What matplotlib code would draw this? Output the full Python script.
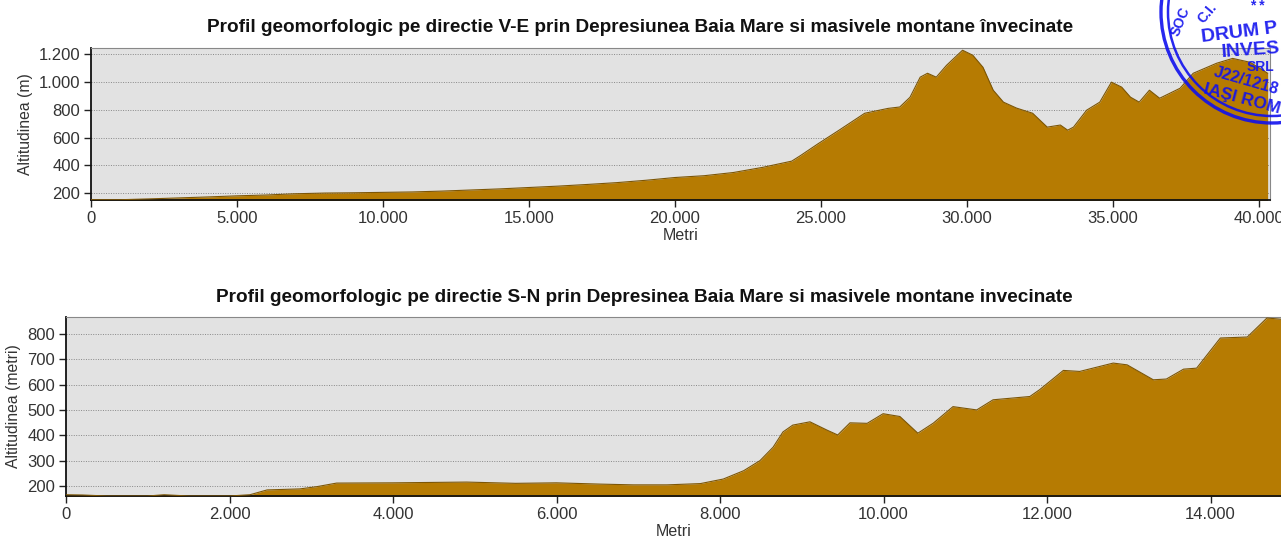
import matplotlib
matplotlib.use("Agg")
import matplotlib.pyplot as plt
from matplotlib.ticker import FuncFormatter, MultipleLocator
from matplotlib.patches import Circle

plt.rcParams['font.family'] = ['Liberation Sans', 'DejaVu Sans']

# --- profil V-E (distanta in metri, altitudine in m) ---
ve_dist = [0, 1000, 2000, 3000, 4000, 5000, 6000, 7000, 8000, 9000, 10000,
           11000, 12000, 13000, 14000, 15000, 16000, 17000, 18000, 19000,
           20000, 21000, 22000, 23000, 24000, 24300, 24900, 25600, 26500,
           27300, 27700, 28050, 28400, 28650, 28950, 29300, 29850, 30200,
           30550, 30900, 31250, 31700, 32250, 32750, 33200, 33450, 33650,
           34100, 34550, 34950, 35300, 35600, 35900, 36250, 36600, 37300,
           37750, 38550, 39100, 39700, 40300]
ve_alt = [152, 152, 158, 165, 172, 180, 186, 195, 200, 202, 205,
          208, 214, 222, 230, 240, 250, 262, 275, 292,
          312, 325, 348, 385, 430, 470, 555, 650, 775,
          810, 820, 890, 1035, 1063, 1035, 1120, 1229, 1193,
          1106, 941, 855, 812, 775, 675, 690, 653, 675,
          797, 855, 999, 963, 891, 855, 941, 883, 955,
          1063, 1135, 1170, 1142, 1063]

# --- profil S-N ---
sn_dist = [0, 200, 500, 1000, 1200, 1500, 2000, 2250, 2460, 2860, 3070, 3310,
           4000, 4900, 5500, 6000, 6530, 6940, 7350, 7760, 8040, 8290, 8490,
           8650, 8770, 8890, 9100, 9310, 9440, 9590, 9800, 9995, 10200, 10420,
           10610, 10850, 11140, 11340, 11790, 11910, 12200, 12400, 12810,
           12980, 13300, 13460, 13670, 13830, 14120, 14450, 14690, 14870]
sn_alt = [165, 164, 160, 160, 165, 160, 160, 165, 184, 188, 197, 211,
          212, 215, 210, 212, 207, 204, 204, 209, 227, 260, 300,
          353, 413, 440, 453, 420, 401, 449, 447, 485, 474, 408,
          448, 513, 500, 540, 553, 580, 656, 652, 685,
          678, 619, 622, 661, 665, 784, 788, 863, 858]

ve_title = "Profil geomorfologic pe directie V-E prin Depresiunea Baia Mare si masivele montane învecinate"
sn_title = "Profil geomorfologic pe directie S-N prin Depresinea Baia Mare si masivele montane invecinate"

FILL = "#b67b02"
EDGE = "#7d5605"
BG = "#e2e2e2"

W, H = 1281, 539


def fmt_ro(v, pos):
    return f"{int(round(v)):,}".replace(",", ".")


def draw_profile(ax, dist, alt, ylim, xlim, xstep, ystep, ylabel):
    ax.set_facecolor(BG)
    ax.fill_between(dist, ylim[0] - 50, alt, color=FILL, lw=0, zorder=2)
    ax.plot(dist, alt, color=EDGE, lw=0.8, zorder=3)
    ax.set_xlim(*xlim)
    ax.set_ylim(*ylim)
    ax.xaxis.set_major_locator(MultipleLocator(xstep))
    ax.yaxis.set_major_locator(MultipleLocator(ystep))
    ax.xaxis.set_major_formatter(FuncFormatter(fmt_ro))
    ax.yaxis.set_major_formatter(FuncFormatter(fmt_ro))
    ax.grid(axis='y', color='#888888', ls=(0, (1, 1.5)), lw=0.7, zorder=1)
    ax.tick_params(labelsize=12, length=5, width=1, colors='#222222',
                   labelcolor='#333333', pad=3)
    for s in ['left', 'bottom']:
        ax.spines[s].set_color('#111111')
        ax.spines[s].set_linewidth(1.3)
    for s in ['top', 'right']:
        ax.spines[s].set_color('#888888')
        ax.spines[s].set_linewidth(0.8)
    ax.set_xlabel("Metri", fontsize=11.5, color='#333333', labelpad=1)
    ax.set_ylabel(ylabel, fontsize=11.3, color='#333333', labelpad=4)


fig = plt.figure(figsize=(W / 100, H / 100), dpi=100)
fig.patch.set_facecolor('white')

# axe in pixeli: stanga, sus, dreapta, jos
ax1 = fig.add_axes([91 / W, (H - 200) / H, (1270 - 91) / W, (200 - 48) / H])
ax2 = fig.add_axes([66 / W, (H - 496) / H, (W - 66) / W, (496 - 317) / H])

draw_profile(ax1, ve_dist, ve_alt, (150, 1245), (0, 40380), 5000, 200,
             "Altitudinea (m)")
draw_profile(ax2, sn_dist, sn_alt, (160, 867), (0, 14862), 2000, 100,
             "Altitudinea (metri)")

fig.text(0.5, 1 - 28 / H, ve_title, ha='center', va='center',
         fontsize=13.7, fontweight='bold', color='#111111')
fig.text(0.503, 1 - 297 / H, sn_title, ha='center', va='center',
         fontsize=13.7, fontweight='bold', color='#111111')

# stampila albastra din coltul dreapta-sus
st = fig.add_axes([0, 0, 1, 1], facecolor='none')
st.set_xlim(0, W)
st.set_ylim(H, 0)
st.set_aspect('equal')
st.axis('off')
blue = '#1010ee'
cx, cy = 1272, 12
for r, lw in [(111, 2.4), (104, 1.8)]:
    st.add_patch(Circle((cx, cy), r, fill=False, ec=blue, lw=lw, alpha=0.9))
st.text(1200, 33, "DRUM P", color=blue, fontsize=14, fontweight='bold',
        ha='left', va='center', rotation=7, alpha=0.9)
st.text(1221, 50, "INVES", color=blue, fontsize=14, fontweight='bold',
        ha='left', va='center', rotation=4, alpha=0.9)
st.text(1247, 67, "SRL", color=blue, fontsize=10, fontweight='bold',
        ha='left', va='center', alpha=0.9)
st.text(1246, 81, "J22/1218", color=blue, fontsize=11.5, fontweight='bold',
        ha='center', va='center', rotation=-16, alpha=0.9)
st.text(1242, 99, "IAŞI ROM", color=blue, fontsize=12.5, fontweight='bold',
        ha='center', va='center', rotation=-15, alpha=0.9)
st.text(1181, 22, "SOC", color=blue, fontsize=10, fontweight='bold',
        ha='center', va='center', rotation=68, alpha=0.9)
st.text(1207, 13, "C.I.", color=blue, fontsize=10, fontweight='bold',
        ha='center', va='center', rotation=50, alpha=0.9)
st.text(1257, 6, "* *", color=blue, fontsize=10, fontweight='bold',
        ha='center', va='center', alpha=0.9)

fig.savefig("out.png", dpi=100)
